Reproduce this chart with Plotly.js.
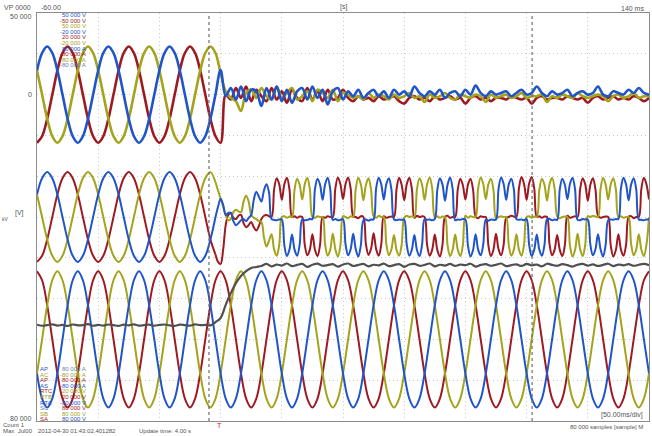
<!DOCTYPE html>
<html><head><meta charset="utf-8">
<script src="https://cdn.plot.ly/plotly-3.0.1.min.js"></script>
<style>html,body{margin:0;padding:0;background:#fff}#chart{width:652px;height:436px}</style>
</head><body><div id="chart"></div>
<script>
// time base in ms
const T_START = -60;
const T_STEP = 20 / 12;          // coarse sampling
const POST_START = -60 + 35 * 20 / 12;   // start of fine-sampled current record
const POST_STEP = 20 / 24;       // fine sampling

// Channel 1: voltages [kV] (top panel)
const ch1Blue = [
14.8,25.5,29.5,25.5,14.8,0,-14.8,-25.5,-29.5,-25.5,-14.8,0,
14.8,25.5,29.5,25.5,14.8,0,-14.8,-25.5,-29.5,-25.5,-14.8,0,
14.8,25.5,29.5,25.5,14.8,0,-14.8,-25.5,-29.5,-25.5,-14.8,0,
15,
-1,4,-3,5,-4,3,2,-7,4,-3,5,-4,3,-5,2,4,-3,5,-2,3,-6,2,4,-3,
2,-1,3,-2,1,3,-1,2,-2,3,0,2,-1,5,1,-1,2,0,3,-2,1,2,-1,3,0,5.5,1,-1,2,0,
1,2,-1,1,3,0,1,5,1,-1,2,0,1,3,-1,1,2,0,1,5,0,-1,2,1,0,3,1,4,1,0];
const ch1Red = [
-29.5,-25.5,-14.8,0,14.8,25.5,29.5,25.5,14.8,0,-14.8,-25.5,
-29.5,-25.5,-14.8,0,14.8,25.5,29.5,25.5,14.8,0,-14.8,-25.5,
-29.5,-25.5,-14.8,0,14.8,25.5,29.5,25.5,14.8,0,-14.8,-25.5,
-29.5,
0,-3,4,-2,5,-4,3,-1,-4,4,-3,2,-5,3,-2,-4,4,-3,2,-4,3,-3,-2,3,
-2,-4,-1,-3,-2,-4,-1,-3,-2,-1,-4,-5.5,-2,-1,-3,-2,-4,-1,-3,-2,-1,-3,-2,-5.5,-2,-1,-3,-2,-4,-2,
-2,-3,-1,-2,-3,-2,-5.5,-2,-1,-3,-2,-2,-3,-1,-2,-3,-2,-5,-2,-1,-3,-2,-1,-3,-2,-3,-1,-2,-4,-2];
const ch1Olive = [
14.8,0,-14.8,-25.5,-29.5,-25.5,-14.8,0,14.8,25.5,29.5,25.5,
14.8,0,-14.8,-25.5,-29.5,-25.5,-14.8,0,14.8,25.5,29.5,25.5,
14.8,0,-14.8,-25.5,-29.5,-25.5,-14.8,0,14.8,25.5,29.5,25.5,
13,
2,-2,-4,-10,1,3,-2,4,-1,-3,5,-2,1,4,-3,-1,2,-4,3,1,-2,3,-4,1,
0,-2,-1,-3,1,-2,0,-1,-3,0,-2,-1,1,-2,-1,-4.5,0,-2,-1,1,-2,-3,0,-1,-2,0,-1,-4.5,0,-2,
-1,0,-2,-1,1,-2,-1,-1,0,-4.5,-1,-2,0,-1,-2,1,-1,-2,-1,0,-1,-4,-1,0,-2,-1,1,-2,-1,-1];

// Channel 2: currents [kA] (middle panel) - before the fault
const ch2BluePre = [
.55,.95,1.1,.95,.55,0,-.55,-.95,-1.1,-.95,-.55,0,
.55,.95,1.1,.95,.55,0,-.55,-.95,-1.1,-.95,-.55,0,
.55,.95,1.1,.95,.55,0,-.55,-.95,-1.1,-.95,-.55,0];
const ch2RedPre = [
-1.1,-.95,-.55,0,.55,.95,1.1,.95,.55,0,-.55,-.95,
-1.1,-.95,-.55,0,.55,.95,1.1,.95,.55,0,-.55,-.95,
-1.1,-.95,-.55,0,.55,.95,1.1,.95,.55,0,-.55,-.92];
const ch2OlivePre = [
.55,0,-.55,-.95,-1.1,-.95,-.55,0,.55,.95,1.1,.95,
.55,0,-.55,-.95,-1.1,-.95,-.55,0,.55,.95,1.1,.95,
.55,0,-.55,-.95,-1.1,-.95,-.55,0,.55,.95,1.1,.85];

// Channel 2: currents [kA] - fault and after (fine sampling)
const ch2RedPost = [
-.92,-1.1,-1.15,-.8,-.2,.05,.1,-.02,-.05,.03, .05,-.15,-.25,-.2, -.12,-.25,-.33,-.22, -.05,.03,.05,.02,
0,.68,.95,.8, .42,.8,.96,.68, 0,.02,-.02,.01, 0,-.68,-.94,-.8, -.42,-.8,-.96,-.68, 0,-.02,.02,0,
0,.7,.97,.8, .44,.81,.97,.7, .02,0,-.03,.02, 0,-.67,-.93,-.78, -.4,-.79,-.95,-.67, .02,-.02,0,.01,
0,.68,.96,.79, .41,.8,.96,.69, -.02,.03,0,.02, 0,-.69,-.95,-.8, -.43,-.81,-.97,-.69, 0,.03,-.02,0,
0,.67,.94,.78, .43,.79,.94,.67, .02,-.03,.02,0, 0,-.69,-.96,-.8, -.41,-.79,-.94,-.68, -.02,0,.03,.01,
0,.7,.98,.81, .42,.82,.98,.7, 0,.02,-.02,.01, 0,-.67,-.94,-.8, -.44,-.8,-.96,-.69, .03,-.02,0,.02,
0,.68,.95,.8, .4,.79,.95,.68, .03,-.02,0,.01, 0,-.7,-.97,-.81, -.42,-.8,-.95,-.68, 0,.02,-.03,0,
0,.69,.96,.8,.43];
const ch2OlivePost = [
.85,.65,.45,.25,.05,-.08, -.05,.12,.18,.14, .12,.38,.52,.38, .05,-.02,-.05,-.1, -.12,-.5,-.72,-.58,
-.42,-.8,-.95,-.68, 0,.02,-.02,.01, 0,.67,.94,.79, .43,.8,.96,.68, 0,-.02,.02,0, 0,-.68,-.95,-.8,
-.41,-.79,-.97,-.69, .02,0,-.03,.02, 0,.69,.96,.8, .41,.79,.95,.67, .02,-.02,.03,0, 0,-.67,-.94,-.79,
-.44,-.81,-.95,-.68, -.02,.03,0,.02, 0,.68,.95,.79, .42,.81,.97,.69, 0,.02,-.02,.01, 0,-.69,-.96,-.8,
-.43,-.8,-.96,-.69, .03,-.02,.02,0, 0,.7,.97,.81, .44,.8,.94,.67, -.03,0,.02,0, 0,-.68,-.95,-.8,
-.42,-.8,-.95,-.68, 0,.02,-.02,.01, 0,.67,.94,.79, .4,.8,.96,.69, .02,-.03,0,.01, 0,-.7,-.97,-.81,
-.41,-.79,-.96,-.68, .02,0,.03,.01, 0,.69,.96,.8, .43,.8,.95,.68, 0,.02,-.02,0, 0,-.67,-.94,-.79,
-.42,-.8,-.96,-.68,0];
const ch2BluePost = [
0,.25,.45,.3,.05,.1, .1,-.1,-.2,-.15, -.08,-.05,-.1,-.02, .05,.42,.62,.5, .38,.65,.8,.6,
-.05,-.07,-.08,-.06, -.06,-.69,-.96,-.8, -.43,-.8,-.95,-.68, -.06,-.08,-.07,-.05, -.05,.68,.94,.79, .42,.8,.96,.68,
-.07,-.05,-.08,-.07, -.05,-.67,-.94,-.79, -.41,-.79,-.97,-.69, -.08,-.06,-.09,-.06, -.06,.7,.96,.8, .43,.81,.95,.67,
-.06,-.08,-.06,-.07, -.07,-.68,-.95,-.8, -.44,-.81,-.96,-.68, -.05,-.07,-.06,-.08, -.05,.67,.95,.8, .4,.79,.97,.69,
-.08,-.06,-.07,-.05, -.06,-.7,-.97,-.81, -.42,-.8,-.94,-.67, -.07,-.09,-.06,-.07, -.06,.69,.97,.81, .42,.8,.94,.68,
-.05,-.07,-.06,-.08, -.05,-.68,-.96,-.8, -.43,-.8,-.95,-.69, -.06,-.05,-.08,-.06, -.07,.67,.94,.79, .44,.81,.96,.68,
-.07,-.08,-.05,-.06, -.06,-.67,-.94,-.79, -.42,-.79,-.97,-.68, -.08,-.06,-.07,-.05, -.05,.7,.96,.8, .41,.8,.95,.67,
-.06,-.07,-.08,-.06,-.06];

// Channel 3: voltages [kV] (bottom panel)
const ch3Blue = [
-8.35,-14.5,-16.7,-14.5,-8.35,0,8.35,14.5,16.7,14.5,8.35,0,
-8.35,-14.5,-16.7,-14.5,-8.35,0,8.35,14.5,16.7,14.5,8.35,0,
-8.35,-14.5,-16.7,-14.5,-8.35,0,8.35,14.5,16.7,14.5,8.35,0,
-8.35,-14.5,-16.7,-14.5,-8.35,0,8.35,14.5,16.7,14.5,8.35,0,
-8.35,-14.5,-16.7,-14.5,-8.35,0,8.35,14.5,16.7,14.5,8.35,0,
-8.35,-14.5,-16.7,-14.5,-8.35,0,8.35,14.5,16.7,14.5,8.35,0,
-8.35,-14.5,-16.7,-14.5,-8.35,0,8.35,14.5,16.7,14.5,8.35,0,
-8.35,-14.5,-16.7,-14.5,-8.35,0,8.35,14.5,16.7,14.5,8.35,0,
-8.35,-14.5,-16.7,-14.5,-8.35,0,8.35,14.5,16.7,14.5,8.35,0,
-8.35,-14.5,-16.7,-14.5,-8.35,0,8.35,14.5,16.7,14.5,8.35,0,
-8.35];
const ch3Red = [
16.7,14.5,8.35,0,-8.35,-14.5,-16.7,-14.5,-8.35,0,8.35,14.5,
16.7,14.5,8.35,0,-8.35,-14.5,-16.7,-14.5,-8.35,0,8.35,14.5,
16.7,14.5,8.35,0,-8.35,-14.5,-16.7,-14.5,-8.35,0,8.35,14.5,
16.7,14.5,8.35,0,-8.35,-14.5,-16.7,-14.5,-8.35,0,8.35,14.5,
16.7,14.5,8.35,0,-8.35,-14.5,-16.7,-14.5,-8.35,0,8.35,14.5,
16.7,14.5,8.35,0,-8.35,-14.5,-16.7,-14.5,-8.35,0,8.35,14.5,
16.7,14.5,8.35,0,-8.35,-14.5,-16.7,-14.5,-8.35,0,8.35,14.5,
16.7,14.5,8.35,0,-8.35,-14.5,-16.7,-14.5,-8.35,0,8.35,14.5,
16.7,14.5,8.35,0,-8.35,-14.5,-16.7,-14.5,-8.35,0,8.35,14.5,
16.7,14.5,8.35,0,-8.35,-14.5,-16.7,-14.5,-8.35,0,8.35,14.5,
16.7];
const ch3Olive = [
-8.35,0,8.35,14.5,16.7,14.5,8.35,0,-8.35,-14.5,-16.7,-14.5,
-8.35,0,8.35,14.5,16.7,14.5,8.35,0,-8.35,-14.5,-16.7,-14.5,
-8.35,0,8.35,14.5,16.7,14.5,8.35,0,-8.35,-14.5,-16.7,-14.5,
-8.35,0,8.35,14.5,16.7,14.5,8.35,0,-8.35,-14.5,-16.7,-14.5,
-8.35,0,8.35,14.5,16.7,14.5,8.35,0,-8.35,-14.5,-16.7,-14.5,
-8.35,0,8.35,14.5,16.7,14.5,8.35,0,-8.35,-14.5,-16.7,-14.5,
-8.35,0,8.35,14.5,16.7,14.5,8.35,0,-8.35,-14.5,-16.7,-14.5,
-8.35,0,8.35,14.5,16.7,14.5,8.35,0,-8.35,-14.5,-16.7,-14.5,
-8.35,0,8.35,14.5,16.7,14.5,8.35,0,-8.35,-14.5,-16.7,-14.5,
-8.35,0,8.35,14.5,16.7,14.5,8.35,0,-8.35,-14.5,-16.7,-14.5,
-8.35];

// Channel 4: gray trace
const ch4Gray = [
-5.28,-5.33,-5.3,-5.26,-5.32,-5.29,-5.34,-5.27,-5.31,-5.3,
-5.25,-5.33,-5.29,-5.32,-5.27,-5.3,-5.34,-5.28,-5.31,-5.26,
-5.32,-5.3,-5.28,-5.33,-5.29,-5.27,-5.31,-5.34,-5.28,-5.3,
-5.32,-5.26,-5.3,-5.29,-5.31,
-5.15,-4.95,-4.31,-3.73,-3.24,-2.89,-2.65,-2.5,-2.45,-2.4,
-2.3,-2.42,-2.33,-2.38,-2.28,-2.41,-2.35,-2.3,-2.44,-2.34,
-2.29,-2.39,-2.36,-2.31,-2.43,-2.33,-2.28,-2.4,-2.35,-2.3,
-2.42,-2.34,-2.37,-2.29,-2.41,-2.36,-2.31,-2.44,-2.33,-2.3,
-2.39,-2.35,-2.28,-2.42,-2.34,-2.38,-2.3,-2.4,-2.33,-2.36,
-2.29,-2.43,-2.35,-2.31,-2.39,-2.34,-2.28,-2.41,-2.36,-2.32,
-2.4,-2.3,-2.37,-2.33,-2.42,-2.29,-2.35,-2.39,-2.31,-2.36,
-2.43,-2.34,-2.3,-2.38,-2.32,-2.4,-2.35,-2.29,-2.41,-2.33,
-2.37,-2.31,-2.39,-2.34,-2.3,-2.36];

const cursorTimes = [-3.8, 101.8];

const topScaleLabels = ['50 000 V','-50 000 V','50 000 V','-20 000 V','20 000 V','-20 000 V','80 000 A','-80 000 A','80 000 A','-80 000 A'];
const bottomNames = ['AP','AC','AP','AS','RTC','RTB','RTA','SC','SB','SA'];
const bottomScaleLabels = ['80 000 A','-80 000 A','80 000 A','-80 000 A','20 000 V','20 000 V','-80 000 V','80 000 V','80 000 V','80 000 V'];

const BLUE = '#1f55c8', RED = '#9e1a22', OLIVE = '#a3a31c', GRAY = '#505050';
const topColors = [BLUE, RED, OLIVE, BLUE, RED, OLIVE, BLUE, RED, OLIVE, '#6a7fb0'];
const bottomColors = ['#6a7fb0', OLIVE, RED, BLUE, OLIVE, RED, BLUE, RED, OLIVE, BLUE];

function tr(y, axis, color, width, x0, dx) {
  return {type:'scatter', mode:'lines', x0:(x0===undefined?T_START:x0), dx:(dx||T_STEP), y:y, yaxis:axis,
    line:{color:color, width:width, shape:'spline', smoothing:1}, hoverinfo:'skip', showlegend:false};
}
const data = [
  tr(ch3Red,'y3',RED,2), tr(ch3Olive,'y3',OLIVE,2), tr(ch3Blue,'y3',BLUE,2),
  tr(ch2RedPre,'y2',RED,2), tr(ch2OlivePre,'y2',OLIVE,2), tr(ch2BluePre,'y2',BLUE,2),
  tr(ch2RedPost,'y2',RED,2,POST_START,POST_STEP), tr(ch2OlivePost,'y2',OLIVE,2,POST_START,POST_STEP),
  tr(ch2BluePost,'y2',BLUE,2,POST_START,POST_STEP),
  tr(ch1Red,'y',RED,2.6), tr(ch1Olive,'y',OLIVE,2.6), tr(ch1Blue,'y',BLUE,2.6),
  tr(ch4Gray,'y4',GRAY,2.2)
];

// pixel -> paper helpers for text placement
const L = 37, W = 612, B = 421, H = 408;
function A(px, py, text, color, xa, size) {
  return {xref:'paper', yref:'paper', x:(px-L)/W, y:(B-py)/H, text:text, showarrow:false,
    xanchor:xa||'left', yanchor:'middle', font:{family:'Liberation Sans, Arial, sans-serif', size:size||6, color:color||'#555'}};
}
const ann = [
  A(2,7,'VP 0000','#555','left',7),
  A(39,7,'-60.00','#555','left',7),
  A(34,17,'50 000','#555','right',7),
  A(34,95,'0','#555','right',7),
  A(34,418,'80 000','#555','right',7),
  A(343,7,'[s]','#555','center',7),
  A(646,8,'140 ms','#555','right',7),
  A(19,213,'[V]','#555','center',7),
  A(5,219,'kV','#555','center',5),
  A(645,415,'[50.00ms/div]','#555','right',7),
  A(645,427,'80 000 samples [sample] M','#555','right',6),
  A(1,425,'Count 1','#555','left',6),
  A(1,431,'Max  Jul00','#555','left',6),
  A(36,431,'2012-04-30 01:43:02.401282','#555','left',6),
  A(137,431,'Update time: 4.00 s','#555','left',6),
  A(219,425,'T','#d01010','center',7)
];
topScaleLabels.forEach((t,i)=>ann.push(A(88,15+i*5.6,t,topColors[i],'right',6)));
bottomScaleLabels.forEach((t,i)=>ann.push(A(88,369+i*5.6,t,bottomColors[i],'right',6)));
bottomNames.forEach((t,i)=>ann.push(A(38,369+i*5.6,t,bottomColors[(i+3)%10],'left',6)));

const hiddenAxis = {overlaying:'y', visible:false, fixedrange:true};
const layout = {
  width:652, height:436, margin:{l:37,r:3,t:13,b:15},
  paper_bgcolor:'#fff', plot_bgcolor:'#fff', showlegend:false,
  xaxis:{range:[-60,140], tick0:-60, dtick:20, showgrid:true, gridcolor:'#c8c8c8', griddash:'1px,3px', gridwidth:1,
    showticklabels:false, ticks:'', zeroline:false, showline:true, mirror:true, linecolor:'#8c8c8c', linewidth:1},
  yaxis:{range:[-200,50], tick0:0, dtick:25, showgrid:true, gridcolor:'#c8c8c8', griddash:'1px,3px', gridwidth:1,
    showticklabels:false, ticks:'', zeroline:false, showline:true, mirror:true, linecolor:'#8c8c8c', linewidth:1},
  yaxis2:Object.assign({range:[-5,5]}, hiddenAxis),
  yaxis3:Object.assign({range:[-20,80]}, hiddenAxis),
  yaxis4:Object.assign({range:[-10,10]}, hiddenAxis),
  shapes: cursorTimes.map(t=>({type:'line', xref:'x', yref:'paper', x0:t, x1:t, y0:0, y1:1,
    line:{color:'#6e6e6e', width:1.2, dash:'dot'}})),
  annotations: ann
};
Plotly.newPlot('chart', data, layout, {staticPlot:true, displayModeBar:false});
</script></body></html>
